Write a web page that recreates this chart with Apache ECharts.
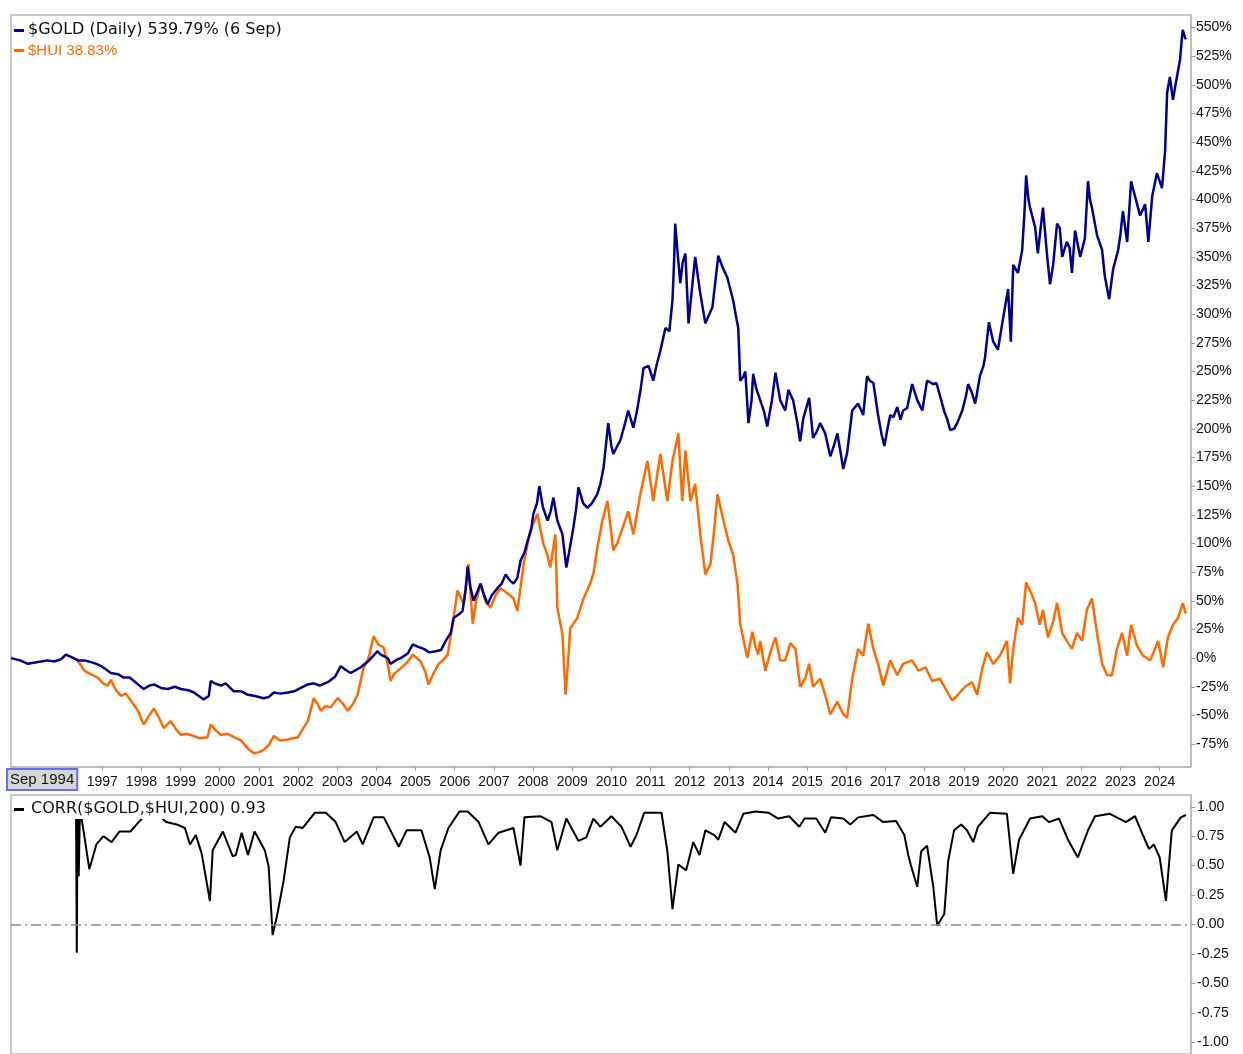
<!DOCTYPE html>
<html><head><meta charset="utf-8">
<script src="https://cdn.jsdelivr.net/npm/echarts@6/dist/echarts.min.js"></script>
<style>html,body{margin:0;padding:0;background:#fff}#c{width:1243px;height:1054px}</style>
</head><body><div id="c"></div>
<script>
// [decimal year, % change since Sep 1994]
const goldData = [[1994.67,0],[1994.72,-1],[1994.90,-2],[1995.10,-5],[1995.25,-4],[1995.44,-3],[1995.60,-2],[1995.77,-3],[1995.95,-1],[1996.07,3],[1996.20,1],[1996.38,-2],[1996.55,-2],[1996.71,-3.5],[1996.85,-5],[1996.97,-7],[1997.10,-10],[1997.22,-13],[1997.40,-14],[1997.55,-17],[1997.70,-17],[1997.81,-20],[1997.95,-24],[1998.06,-27],[1998.20,-24],[1998.32,-23],[1998.50,-26],[1998.68,-27],[1998.85,-25],[1999.01,-27],[1999.20,-28],[1999.34,-30],[1999.50,-34],[1999.59,-36],[1999.72,-33],[1999.77,-20],[1999.88,-22],[2000.03,-24],[2000.15,-22],[2000.36,-29],[2000.55,-29],[2000.72,-32],[2000.90,-33],[2001.12,-35],[2001.25,-34],[2001.38,-30],[2001.55,-31],[2001.74,-30],[2001.90,-29],[2002.07,-26],[2002.25,-23],[2002.40,-22],[2002.55,-24],[2002.76,-21],[2002.95,-16],[2003.09,-7],[2003.20,-10],[2003.34,-13],[2003.45,-11],[2003.60,-8],[2003.78,-3],[2003.92,2],[2004.03,6],[2004.11,3],[2004.29,0],[2004.36,-5],[2004.54,-1],[2004.62,0],[2004.80,4],[2004.93,12],[2005.05,10],[2005.21,8],[2005.35,5],[2005.51,6],[2005.65,7],[2005.77,15],[2005.90,22],[2005.97,35],[2006.10,38],[2006.20,41],[2006.28,60],[2006.33,80],[2006.40,62],[2006.48,50],[2006.58,58],[2006.66,65],[2006.75,55],[2006.84,47],[2006.95,55],[2007.09,61],[2007.20,65],[2007.30,73],[2007.40,68],[2007.50,65],[2007.60,70],[2007.68,85],[2007.78,92],[2007.86,102],[2007.95,112],[2008.01,126],[2008.10,135],[2008.16,150],[2008.25,132],[2008.37,120],[2008.45,128],[2008.52,140],[2008.62,120],[2008.75,108],[2008.85,79],[2008.95,98],[2009.03,114],[2009.10,130],[2009.16,149],[2009.28,135],[2009.39,131],[2009.50,135],[2009.64,143],[2009.72,152],[2009.80,166],[2009.92,205],[2010.00,185],[2010.05,178],[2010.15,185],[2010.23,190],[2010.35,205],[2010.43,216],[2010.56,201],[2010.65,215],[2010.75,235],[2010.82,253],[2010.95,255],[2011.07,242],[2011.15,255],[2011.25,268],[2011.38,288],[2011.48,285],[2011.56,312],[2011.60,345],[2011.63,379],[2011.70,350],[2011.76,327],[2011.82,345],[2011.89,353],[2011.97,292],[2012.05,320],[2012.14,350],[2012.20,335],[2012.27,318],[2012.40,292],[2012.50,300],[2012.58,306],[2012.66,330],[2012.73,351],[2012.85,340],[2012.96,332],[2013.05,320],[2013.11,312],[2013.20,295],[2013.24,288],[2013.29,242],[2013.36,245],[2013.42,250],[2013.50,205],[2013.58,225],[2013.62,248],[2013.70,235],[2013.80,225],[2013.90,215],[2013.98,202],[2014.10,225],[2014.19,249],[2014.31,225],[2014.44,216],[2014.52,234],[2014.64,225],[2014.75,205],[2014.82,189],[2014.90,209],[2015.05,227],[2015.15,192],[2015.25,198],[2015.33,205],[2015.46,196],[2015.59,176],[2015.68,185],[2015.77,196],[2015.85,180],[2015.92,165],[2016.02,179],[2016.15,216],[2016.30,222],[2016.43,212],[2016.53,246],[2016.60,242],[2016.69,240],[2016.81,212],[2016.90,195],[2016.97,185],[2017.05,200],[2017.12,212],[2017.20,210],[2017.30,219],[2017.38,208],[2017.45,216],[2017.55,218],[2017.68,239],[2017.81,225],[2017.94,216],[2018.06,242],[2018.22,239],[2018.30,240],[2018.39,229],[2018.50,215],[2018.57,209],[2018.65,199],[2018.75,200],[2018.83,205],[2018.96,216],[2019.05,228],[2019.11,239],[2019.20,232],[2019.29,222],[2019.41,246],[2019.50,255],[2019.54,262],[2019.64,293],[2019.75,276],[2019.87,269],[2020.00,296],[2020.13,322],[2020.20,276],[2020.26,343],[2020.38,336],[2020.49,356],[2020.55,390],[2020.59,421],[2020.65,400],[2020.69,393],[2020.82,376],[2020.89,353],[2020.96,375],[2021.02,393],[2021.12,353],[2021.20,326],[2021.28,343],[2021.38,379],[2021.45,375],[2021.51,350],[2021.63,363],[2021.70,358],[2021.76,336],[2021.84,373],[2021.97,350],[2022.09,366],[2022.17,416],[2022.22,400],[2022.27,393],[2022.40,369],[2022.53,356],[2022.60,333],[2022.71,313],[2022.81,339],[2022.94,356],[2023.00,370],[2023.06,390],[2023.17,363],[2023.27,416],[2023.37,403],[2023.50,386],[2023.63,396],[2023.71,363],[2023.81,403],[2023.93,423],[2024.06,410],[2024.14,443],[2024.19,493],[2024.26,507],[2024.34,487],[2024.44,507],[2024.52,522],[2024.57,542],[2024.59,548],[2024.64,542],[2024.67,539.79]];

const huiData = [[1996.33,0],[1996.45,-6],[1996.54,-11],[1996.70,-14],[1996.89,-17],[1997.02,-22],[1997.14,-24],[1997.22,-19],[1997.35,-28],[1997.48,-33],[1997.60,-31],[1997.73,-37],[1997.91,-46],[1998.06,-58],[1998.20,-50],[1998.32,-44],[1998.45,-52],[1998.57,-61],[1998.75,-55],[1998.88,-62],[1999.01,-67],[1999.15,-66],[1999.34,-68],[1999.50,-70],[1999.69,-69],[1999.77,-58],[1999.90,-63],[2000.03,-67],[2000.20,-66],[2000.36,-69],[2000.55,-72],[2000.72,-79],[2000.87,-83],[2001.00,-82],[2001.12,-80],[2001.25,-76],[2001.38,-68],[2001.55,-72],[2001.74,-71],[2001.88,-70],[2002.00,-69],[2002.12,-62],[2002.25,-55],[2002.40,-35],[2002.50,-40],[2002.58,-46],[2002.70,-42],[2002.83,-43],[2003.01,-35],[2003.15,-40],[2003.27,-46],[2003.40,-40],[2003.52,-32],[2003.67,-9],[2003.80,0],[2003.93,19],[2004.05,12],[2004.19,9],[2004.29,-5],[2004.36,-20],[2004.45,-14],[2004.62,-9],[2004.78,-4],[2004.93,3],[2005.13,-3],[2005.25,-12],[2005.33,-23],[2005.45,-14],[2005.59,-5],[2005.70,-2],[2005.82,3],[2005.95,30],[2006.07,59],[2006.23,47],[2006.35,82],[2006.46,30],[2006.55,50],[2006.66,65],[2006.78,50],[2006.91,44],[2007.05,55],[2007.17,61],[2007.37,56],[2007.50,52],[2007.60,41],[2007.76,82],[2007.93,111],[2008.02,118],[2008.11,126],[2008.26,100],[2008.35,92],[2008.44,79],[2008.57,108],[2008.62,44],[2008.75,21],[2008.83,-32],[2008.90,0],[2008.95,26],[2009.13,35],[2009.29,52],[2009.46,65],[2009.55,75],[2009.64,96],[2009.77,120],[2009.90,137],[2010.05,94],[2010.15,100],[2010.23,108],[2010.43,128],[2010.56,108],[2010.74,143],[2010.92,172],[2011.07,137],[2011.25,178],[2011.43,137],[2011.56,172],[2011.71,196],[2011.81,137],[2011.89,181],[2012.02,137],[2012.14,152],[2012.27,108],[2012.40,73],[2012.53,82],[2012.62,110],[2012.71,143],[2012.86,120],[2012.99,102],[2013.11,90],[2013.22,65],[2013.29,30],[2013.38,15],[2013.47,0],[2013.60,23],[2013.68,10],[2013.75,3],[2013.80,15],[2013.93,-11],[2014.06,5],[2014.19,18],[2014.31,-2],[2014.44,-2],[2014.57,13],[2014.70,8],[2014.82,-25],[2014.95,-18],[2015.05,-5],[2015.15,-25],[2015.33,-18],[2015.46,-32],[2015.59,-49],[2015.77,-38],[2015.92,-49],[2016.02,-52],[2016.15,-18],[2016.30,8],[2016.43,2],[2016.56,30],[2016.69,8],[2016.81,-5],[2016.94,-24],[2017.12,-2],[2017.30,-15],[2017.45,-5],[2017.68,-2],[2017.84,-11],[2018.02,-8],[2018.19,-20],[2018.39,-18],[2018.57,-29],[2018.70,-37],[2018.85,-32],[2019.03,-25],[2019.21,-21],[2019.34,-32],[2019.47,-9],[2019.59,5],[2019.75,-5],[2019.92,2],[2020.10,15],[2020.18,-22],[2020.26,8],[2020.38,35],[2020.49,29],[2020.59,66],[2020.69,59],[2020.82,48],[2020.94,29],[2021.02,42],[2021.15,18],[2021.28,32],[2021.38,48],[2021.51,22],[2021.63,15],[2021.76,8],[2021.89,22],[2022.02,15],[2022.14,42],[2022.27,52],[2022.40,22],[2022.53,-5],[2022.66,-15],[2022.78,-15],[2022.91,8],[2023.04,22],[2023.17,2],[2023.27,29],[2023.42,11],[2023.58,2],[2023.76,-2],[2023.96,15],[2024.09,-8],[2024.21,18],[2024.34,29],[2024.47,35],[2024.59,48],[2024.67,38.83]];

// 200-day correlation
const corrData = [[1996.33,0.98],[1996.35,-0.24],[1996.37,0.98],[1996.40,0.41],[1996.43,0.98],[1996.52,0.80],[1996.67,0.47],[1996.85,0.68],[1997.03,0.75],[1997.24,0.70],[1997.44,0.79],[1997.72,0.79],[1997.93,0.87],[1998.10,0.93],[1998.35,0.96],[1998.63,0.87],[1998.90,0.85],[1999.11,0.82],[1999.24,0.68],[1999.39,0.76],[1999.54,0.60],[1999.75,0.20],[1999.82,0.63],[2000.08,0.79],[2000.33,0.58],[2000.41,0.59],[2000.56,0.78],[2000.72,0.59],[2000.89,0.79],[2001.15,0.63],[2001.25,0.49],[2001.35,-0.09],[2001.46,0.07],[2001.63,0.37],[2001.79,0.74],[2001.94,0.83],[2002.12,0.82],[2002.43,0.95],[2002.71,0.95],[2002.96,0.87],[2003.19,0.70],[2003.50,0.79],[2003.65,0.68],[2003.93,0.91],[2004.19,0.91],[2004.57,0.66],[2004.77,0.80],[2005.15,0.80],[2005.36,0.57],[2005.49,0.30],[2005.64,0.63],[2005.84,0.82],[2006.12,0.96],[2006.33,0.96],[2006.61,0.87],[2006.86,0.68],[2007.12,0.78],[2007.50,0.82],[2007.68,0.50],[2007.78,0.91],[2008.19,0.92],[2008.47,0.87],[2008.62,0.63],[2008.85,0.90],[2009.16,0.71],[2009.36,0.74],[2009.54,0.90],[2009.72,0.83],[2010.00,0.92],[2010.26,0.83],[2010.49,0.66],[2010.64,0.76],[2010.84,0.95],[2011.28,0.95],[2011.43,0.62],[2011.56,0.13],[2011.71,0.51],[2011.91,0.46],[2012.09,0.70],[2012.25,0.59],[2012.40,0.80],[2012.63,0.76],[2012.73,0.72],[2012.89,0.87],[2013.17,0.78],[2013.37,0.94],[2013.68,0.96],[2014.01,0.95],[2014.26,0.90],[2014.54,0.92],[2014.80,0.83],[2014.93,0.90],[2015.23,0.90],[2015.46,0.78],[2015.61,0.91],[2015.92,0.90],[2016.10,0.85],[2016.30,0.91],[2016.69,0.93],[2016.94,0.87],[2017.27,0.88],[2017.48,0.76],[2017.58,0.59],[2017.65,0.50],[2017.81,0.32],[2017.91,0.62],[2018.06,0.67],[2018.22,0.32],[2018.32,-0.01],[2018.50,0.09],[2018.60,0.54],[2018.75,0.80],[2018.93,0.85],[2019.08,0.80],[2019.24,0.70],[2019.36,0.83],[2019.67,0.95],[2020.10,0.94],[2020.26,0.43],[2020.41,0.72],[2020.69,0.90],[2021.00,0.92],[2021.17,0.87],[2021.43,0.90],[2021.66,0.72],[2021.91,0.57],[2022.17,0.80],[2022.35,0.92],[2022.73,0.94],[2023.14,0.87],[2023.37,0.92],[2023.57,0.76],[2023.73,0.64],[2023.85,0.68],[2024.00,0.57],[2024.16,0.20],[2024.31,0.80],[2024.54,0.91],[2024.67,0.93]];

const yearTicks = [1997,1998,1999,2000,2001,2002,2003,2004,2005,2006,2007,2008,2009,2010,2011,2012,2013,2014,2015,2016,2017,2018,2019,2020,2021,2022,2023,2024];
const pctTicks = [-75,-50,-25,0,25,50,75,100,125,150,175,200,225,250,275,300,325,350,375,400,425,450,475,500,525,550];
const corrTicks = [-1,-0.75,-0.5,-0.25,0,0.25,0.5,0.75,1];

const chart = echarts.init(document.getElementById('c'), null, {renderer:'canvas'});
const axisFont = {fontFamily:'Liberation Sans', fontSize:14, color:'#111'};
const gridBorder = '#b8b8b8';

chart.setOption({
  animation:false,
  backgroundColor:'#fff',
  grid:[
    {left:11, right:52, top:15, height:752, show:true, borderColor:gridBorder, borderWidth:1.5, backgroundColor:'#fff'},
    {left:11, right:52, top:795, height:259, show:true, borderColor:gridBorder, borderWidth:1.5, backgroundColor:'#fff'}
  ],
  xAxis:[
    {type:'value', gridIndex:0, position:'bottom', min:1994.67, max:2024.80, splitLine:{show:false},
     axisLine:{show:true, onZero:false, lineStyle:{color:gridBorder, width:1.5}},
     axisTick:{show:true, customValues:yearTicks, length:4, lineStyle:{color:'#999'}},
     axisLabel:Object.assign({customValues:yearTicks, margin:8, formatter:v=>String(Math.round(v))}, axisFont)},
    {type:'value', gridIndex:1, position:'top', min:1994.67, max:2024.80, splitLine:{show:false},
     axisLine:{show:false, onZero:false}, axisTick:{show:false}, axisLabel:{show:false}}
  ],
  yAxis:[
    {type:'value', gridIndex:0, position:'right', min:-95, max:561, splitLine:{show:false},
     axisLine:{show:true, onZero:false, lineStyle:{color:gridBorder, width:1.5}},
     axisTick:{show:true, customValues:pctTicks, length:4, lineStyle:{color:'#999'}},
     axisLabel:Object.assign({customValues:pctTicks, margin:5, formatter:v=>Math.round(v)+'%'}, axisFont)},
    {type:'value', gridIndex:1, position:'right', min:-1.1, max:1.1, splitLine:{show:false},
     axisLine:{show:true, onZero:false, lineStyle:{color:gridBorder, width:1.5}},
     axisTick:{show:true, customValues:corrTicks, length:4, lineStyle:{color:'#999'}},
     axisLabel:Object.assign({customValues:corrTicks, margin:6, formatter:v=>v.toFixed(2)}, axisFont)}
  ],
  series:[
    {name:'$HUI', type:'line', xAxisIndex:0, yAxisIndex:0, data:huiData, showSymbol:false, symbol:'none',
     lineStyle:{color:'#ff6a00', width:2.5}, z:2},
    {name:'$GOLD', type:'line', xAxisIndex:0, yAxisIndex:0, data:goldData, showSymbol:false, symbol:'none',
     lineStyle:{color:'#00008b', width:2.5}, z:3},
    {name:'CORR', type:'line', xAxisIndex:1, yAxisIndex:1, data:corrData, showSymbol:false, symbol:'none',
     lineStyle:{color:'#000', width:2}, z:3,
     markLine:{silent:true, symbol:'none', label:{show:false},
       lineStyle:{color:'#8a8a8a', width:1.5, type:[10,4,2,4]}, data:[{yAxis:0}]}}
  ],
  graphic:[
    {type:'rect', z:100, shape:{x:14, y:29, width:10, height:3}, style:{fill:'#00008b'}},
    {type:'text', z:100, x:27, y:21, style:{text:'$GOLD (Daily) 539.79% (6 Sep)', fill:'#111', font:'16px "DejaVu Sans"', backgroundColor:'#fff', padding:[1,2,1,1]}},
    {type:'rect', z:100, shape:{x:14, y:49, width:10, height:3}, style:{fill:'#ff6a00'}},
    {type:'text', z:100, x:27, y:42, style:{text:'$HUI 38.83%', fill:'#ff6a00', font:'15px "Liberation Sans"', backgroundColor:'#fff', padding:[1,2,1,1]}},
    {type:'rect', z:100, shape:{x:14, y:808, width:10, height:3}, style:{fill:'#000'}},
    {type:'text', z:100, x:30, y:800, style:{text:'CORR($GOLD,$HUI,200) 0.93', fill:'#111', font:'16px "DejaVu Sans"', backgroundColor:'#fff', padding:[1,2,2,1]}},
    {type:'text', z:100, x:8, y:770, style:{text:'Sep 1994', fill:'#111', font:'15px "Liberation Sans"', backgroundColor:'#d6d6d6', borderColor:'#6b6bf5', borderWidth:2, padding:[2,2,2,2]}}
  ]
});
</script>
</body></html>
